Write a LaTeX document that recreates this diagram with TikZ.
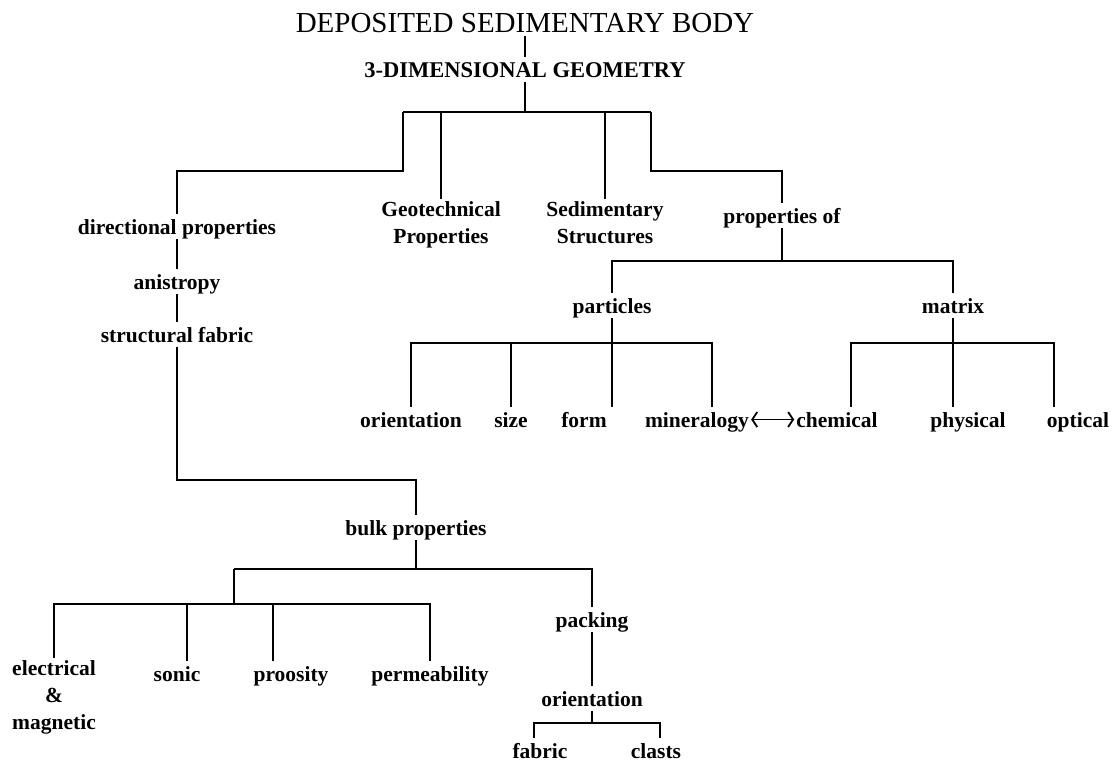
\documentclass[tikz,border=0pt]{standalone}
\usepackage{fontspec}
\setmainfont{Liberation Serif}
\usetikzlibrary{arrows.meta}
\tikzset{
  lbl/.style={font=\fontsize{21.5}{27}\selectfont\bfseries, anchor=base,
    inner xsep=2pt, inner ysep=5pt, text height=15pt, text depth=0pt},
  mlbl/.style={font=\fontsize{21.5}{27}\selectfont\bfseries, align=center,
    anchor=north, inner sep=2pt},
  link/.style={line width=2.6pt},
  twoway/.style={{Straight Barb[length=5pt,width=15pt]}-{Straight Barb[length=5pt,width=15pt]}, line width=1.8pt},
}
\begin{document}
\begin{tikzpicture}[x=1pt,y=-1pt]
\useasboundingbox (0,0) rectangle (1115,764);
% top of the tree
\node[font=\fontsize{29}{30}\selectfont, anchor=base, inner sep=4pt] (body) at (525,32) {DEPOSITED SEDIMENTARY BODY};
\node[lbl, font=\fontsize{22.5}{27}\selectfont\bfseries] (geom) at (525,77) {3-DIMENSIONAL GEOMETRY};
\node[lbl] (dirprop) at (177,234) {directional properties};
\node[mlbl] (geotech) at (441,199) {Geotechnical\\Properties};
\node[mlbl] (sedstr) at (605,199) {Sedimentary\\Structures};
\node[lbl] (propof) at (782,223) {properties of};
\coordinate (top) at (525,112);
\coordinate (topL) at (403,112);
\coordinate (topR) at (651,112);
\coordinate (stepL) at (403,171);
\coordinate (stepR) at (651,171);
\draw[link] (body) -- (geom);
\draw[link] (geom) -- (top);
\draw[link] (topL) -- (topR);
\draw[link] (topL) -- (stepL) -| (dirprop);
\draw[link] (geotech) -- (geotech |- top);
\draw[link] (sedstr) -- (sedstr |- top);
\draw[link] (topR) -- (stepR) -| (propof);
% properties of particles and matrix
\node[lbl] (particles) at (612,313) {particles};
\node[lbl] (matrix) at (953,313) {matrix};
\coordinate (propbar) at (782,261);
\draw[link] (propof) -- (propbar);
\draw[link] (particles) |- (propbar) -| (matrix);
\node[lbl] (porient) at (411,427) {orientation};
\node[lbl] (psize) at (511,427) {size};
\node[lbl] (pform) at (584,427) {form};
\node[lbl] (pmin) at (697,427) {mineralogy};
\node[lbl] (mchem) at (837,427) {chemical};
\node[lbl] (mphys) at (968,427) {physical};
\node[lbl] (mopt) at (1078,427) {optical};
\coordinate (partbar) at (612,343);
\coordinate (matbar) at (953,343);
\draw[link] (particles) -- (partbar);
\draw[link] (matrix) -- (matbar);
\draw[link] (porient) |- (partbar) -| ([xshift=15pt]pmin.north);
\draw[link] (psize) |- (partbar);
\draw[link] (partbar) -- (partbar |- pform.north);
\draw[link] ([xshift=14pt]mchem.north) |- (matbar) -| ([xshift=-24pt]mopt.north);
\draw[link] (matbar) -- (matbar |- mphys.north);
\draw[twoway] (pmin) -- (mchem);
% directional properties down to bulk properties
\node[lbl] (anis) at (177,289) {anistropy};
\node[lbl] (sfab) at (177,342) {structural fabric};
\node[lbl] (bulk) at (416,535) {bulk properties};
\coordinate (sfabbend) at (177,480);
\draw[link] (dirprop) -- (anis);
\draw[link] (anis) -- (sfab);
\draw[link] (sfab) -- (sfabbend) -| (bulk);
% bulk properties
\node[lbl] (packing) at (592,627) {packing};
\node[mlbl] (elec) at (54,658) {electrical\\\&\\magnetic};
\node[lbl] (sonic) at (177,681) {sonic};
\node[lbl] (poros) at (291,681) {proosity};
\node[lbl] (perm) at (430,681) {permeability};
\coordinate (bulkbar) at (416,569);
\coordinate (bulkL) at (234,569);
\coordinate (physbar) at (234,604);
\draw[link] (bulk) -- (bulkbar);
\draw[link] (bulkL) -- (bulkbar) -| (packing);
\draw[link] (bulkL) -- (physbar);
\draw[link] (elec) |- (physbar) -| (perm);
\draw[link] ([xshift=10pt]sonic.north) |- (physbar);
\draw[link] ([xshift=-18pt]poros.north) |- (physbar);
% packing
\node[lbl] (korient) at (592,706) {orientation};
\node[lbl] (fabric) at (540,758) {fabric};
\node[lbl] (clasts) at (656,758) {clasts};
\coordinate (orientbar) at (592,723);
\draw[link] (packing) -- (korient);
\draw[link] (korient) -- (orientbar);
\draw[link] ([xshift=-6pt]fabric.north) |- (orientbar) -| ([xshift=4pt]clasts.north);
\end{tikzpicture}
\end{document}
